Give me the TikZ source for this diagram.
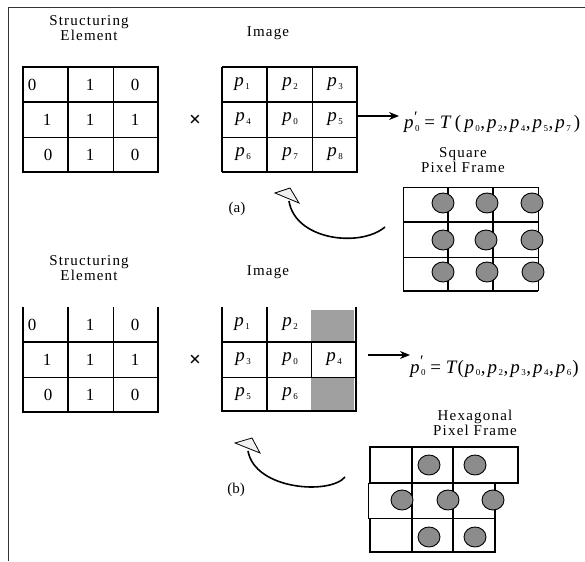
\documentclass[tikz,border=0pt]{standalone}
\usepackage{fontspec}
\setmainfont{Liberation Serif}
\newfontfamily\lblfont[LetterSpace=8]{Liberation Serif}
\usetikzlibrary{arrows.meta}
\newcommand\subd[1]{\raisebox{-0.3ex}{\fontsize{9}{9}\selectfont #1}}
\newcommand\pv[1]{\textit{p}\kern1.5pt\subd{#1}}
\newcommand\cm{\kern0.5pt,\kern2pt}
\newcommand\pprime{\textit{p}\kern0.5pt\rlap{\raisebox{0.75ex}{\fontsize{16}{16}\selectfont\char"2032}}\kern1pt\subd{0}}
\definecolor{dotgray}{RGB}{140,140,140}
\definecolor{sqgray}{RGB}{160,160,160}
\begin{document}
\begin{tikzpicture}[x=1pt,y=-1pt,
  lbl/.style={font=\lblfont\fontsize{15}{17}\selectfont, align=center, inner sep=0pt},
  num/.style={font=\fontsize{17}{17}\selectfont, inner sep=0pt},
  pix/.style={font=\fontsize{19}{19}\selectfont, inner sep=0pt},
  frm/.style={font=\fontsize{19}{19}\selectfont, inner sep=0pt, anchor=base west},
  thk/.style={line width=2pt},
  thn/.style={line width=0.8pt},
  dotc/.style={fill=dotgray, draw=black, line width=0.9pt},
  arr/.style={-{Stealth[length=10pt,width=8pt]}, line width=1.3pt},
  curv/.style={line width=1.6pt},
  head/.style={fill=gray!12, draw=black, line width=0.8pt, line join=miter},
  times/.style={font=\bfseries\fontsize{21}{21}\selectfont, inner sep=0pt}]
\useasboundingbox (0,0) rectangle (585,561);
% outer frame
\draw[line width=1pt, black!80] (585,7.5) -- (8.5,7.5) -- (8.5,561);

% ---------- (a) ----------
\node[lbl] (sea) at (89,28) {Structuring\\[-2pt]Element};
\node[lbl] (ima) at (268,33) {Image};
% structuring element grid (top)
\draw[line width=2.6pt] (23,66) -- (23,173);
\draw[thk] (68,67) -- (68,172);
\draw[thn] (113,67) -- (113,172);
\draw[thk] (158,66) -- (158,173);
\draw[thk] (23,67) -- (158,67);
\draw[thk] (23,102) -- (158,102);
\draw[thn] (23,137) -- (158,137);
\draw[thk] (23,172) -- (158,172);
\node[num] (a11) at (32,85) {0};
\node[num] (a12) at (90,85) {1};
\node[num] (a13) at (135,85) {0};
\node[num] (a21) at (47,120) {1};
\node[num] (a22) at (90,120) {1};
\node[num] (a23) at (135,120) {1};
\node[num] (a31) at (48,155) {0};
\node[num] (a32) at (90,155) {1};
\node[num] (a33) at (135,155) {0};
\node[times] (xa) at (195,121) {×};
% image grid (top)
\draw[line width=1.5pt] (222,67) -- (222,172);
\draw[thk] (267,67) -- (267,172);
\draw[thn] (312,67) -- (312,172);
\draw[thk] (357,66) -- (357,173);
\draw[line width=1.3pt] (222,67) -- (357,67);
\draw[thk] (222,102) -- (357,102);
\draw[thn] (222,137) -- (357,137);
\draw[thk] (222,172) -- (357,172);
\node[pix] (ap1) at (242,84) {\pv{1}};
\node[pix] (ap2) at (290,84) {\pv{2}};
\node[pix] (ap3) at (335,84) {\pv{3}};
\node[pix] (ap4) at (243,119) {\pv{4}};
\node[pix] (ap0) at (290,119) {\pv{0}};
\node[pix] (ap5) at (335,119) {\pv{5}};
\node[pix] (ap6) at (243,154) {\pv{6}};
\node[pix] (ap7) at (290,154) {\pv{7}};
\node[pix] (ap8) at (335,154) {\pv{8}};
% arrow and formula
\coordinate (ga) at (357,116);
\coordinate (fa0) at (399,116);
\draw[arr] (ga) -- (fa0);
\node[frm] (fa) at (404,129) {\pprime\ = \textit{T}\,(\,\pv{0}\cm\pv{2}\cm\pv{4}\cm\pv{5}\cm\pv{7}\,)};
% square pixel frame
\node[lbl] (sqlab) at (463,160) {Square\\[-2pt]Pixel Frame};
\draw[thn] (403,187) -- (538,187);
\draw[line width=1.5pt] (403,222) -- (538,222);
\draw[thn] (403,257) -- (538,257);
\draw[line width=1.3pt] (403,291) -- (538,291);
\draw[thn] (403,187) -- (403,291);
\draw[thn] (538,187) -- (538,291);
\draw[line width=2.6pt] (448,187) -- (448,292);
\draw[line width=2.6pt] (493,187) -- (493,292);
\foreach \cx/\cy in {443/203, 487/203, 532/203, 443/240, 486/240, 532/240, 443/272, 487/272, 533/272}
  \draw[dotc] (\cx,\cy) ellipse [x radius=11, y radius=10];
% curved arrow (a)
\draw[curv] (385,227) .. controls (360,248) and (295,240) .. (289,201);
\draw[head] (275,193) -- (290,188) -- (299,203) -- cycle;
\node[font=\fontsize{15}{15}\selectfont, inner sep=0pt] (la) at (237,209) {(a)};

% ---------- (b) ----------
\node[lbl] (seb) at (89,268) {Structuring\\[-2pt]Element};
\node[lbl] (imb) at (268,272) {Image};
\draw[line width=2.6pt] (23,307) -- (23,413);
\draw[thk] (68,307) -- (68,412);
\draw[thn] (113,307) -- (113,412);
\draw[thk] (158,307) -- (158,413);
\draw[thk] (23,342) -- (158,342);
\draw[thn] (23,377) -- (158,377);
\draw[thk] (23,412) -- (158,412);
\node[num] (b11) at (32,325) {0};
\node[num] (b12) at (90,325) {1};
\node[num] (b13) at (135,325) {0};
\node[num] (b21) at (47,360) {1};
\node[num] (b22) at (90,360) {1};
\node[num] (b23) at (135,360) {1};
\node[num] (b31) at (48,395) {0};
\node[num] (b32) at (90,395) {1};
\node[num] (b33) at (135,395) {0};
\node[times] (xb) at (195,361) {×};
% image grid (bottom)
\fill[sqgray] (311,310) rectangle (354,342);
\fill[sqgray] (311,377) rectangle (354,411);
\draw[thk] (222,307) -- (222,412);
\draw[thk] (267,307) -- (267,412);
\draw[thn] (311,342) -- (311,377);
\draw[thk] (356,307) -- (356,412);
\draw[thk] (222,342) -- (357,342);
\draw[thn] (222,377) -- (357,377);
\draw[thk] (222,411) -- (357,411);
\node[pix] (bp1) at (242,324) {\pv{1}};
\node[pix] (bp2) at (290,324) {\pv{2}};
\node[pix] (bp3) at (243,359) {\pv{3}};
\node[pix] (bp0) at (290,359) {\pv{0}};
\node[pix] (bp4) at (334,359) {\pv{4}};
\node[pix] (bp5) at (243,394) {\pv{5}};
\node[pix] (bp6) at (290,394) {\pv{6}};
% arrow and formula
\coordinate (gb) at (368,355);
\coordinate (fb0) at (410,355);
\draw[arr] (gb) -- (fb0);
\node[frm] (fb) at (410,373) {\pprime\ = \textit{T}(\kern1pt\pv{0}\cm\pv{2}\cm\pv{3}\cm\pv{4}\cm\pv{6}\kern1pt)};
% hexagonal pixel frame
\node[lbl] (hxlab) at (475,423) {Hexagonal\\[-2pt]Pixel Frame};
\draw[thk] (370,447) -- (518,447);
\draw[thk] (369,483) -- (518,483);
\draw[thn] (368,518) -- (495,518);
\draw[thk] (369,552) -- (496,552);
\draw[thk] (370,446) -- (370,483);
\draw[thn] (368,483) -- (368,518);
\draw[thk] (370,518) -- (370,553);
\draw[thk] (412,446) -- (412,553);
\draw[thk] (453,446) -- (453,553);
\draw[thk] (518,446) -- (518,484);
\draw[thk] (495,482) -- (495,553);
\foreach \cx/\cy in {429/465, 475/465, 402/500, 448/500, 493/500, 429/537, 475/537}
  \draw[dotc] (\cx,\cy) ellipse [x radius=11, y radius=10];
% curved arrow (b)
\draw[curv] (345,477) .. controls (330,495) and (255,490) .. (248,451);
\draw[head] (235,443) -- (252,438) -- (260,453) -- cycle;
\node[font=\fontsize{15}{15}\selectfont, inner sep=0pt] (lb) at (236,490) {(b)};
\end{tikzpicture}
\end{document}
